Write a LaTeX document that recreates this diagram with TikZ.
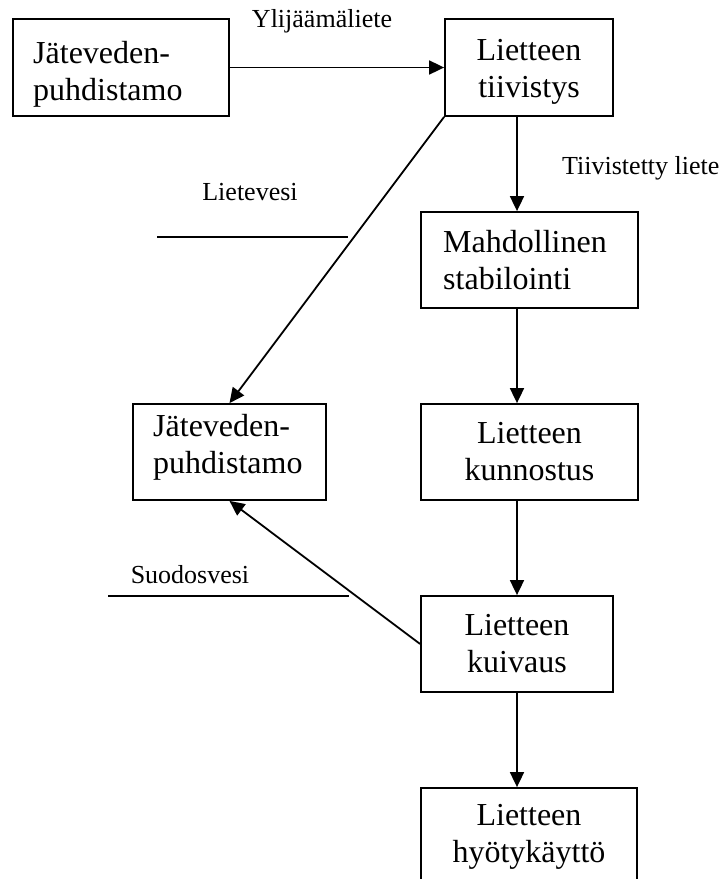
\documentclass[tikz,border=0pt]{standalone}
\usepackage{fontspec}
\setmainfont{Liberation Serif}
\usetikzlibrary{arrows.meta}
\begin{document}
\begin{tikzpicture}[x=1pt,y=-1pt,
  box/.style={draw, line width=1.8pt, inner sep=0pt},
  btl/.style={font=\fontsize{32}{37}\selectfont, inner sep=0pt, text width=200pt, align=left, anchor=base west},
  btc/.style={font=\fontsize{32}{37}\selectfont, inner sep=0pt, text width=#1, align=center, anchor=base},
  lbl/.style={font=\fontsize{26}{30}\selectfont, inner sep=0pt},
  arr/.style={line width=1.8pt, -{Triangle[length=15pt,width=14pt]}},
  plain/.style={line width=1.8pt}]
\useasboundingbox (0,0) rectangle (726,879);
\clip (0,0) rectangle (726,879);
% boxes
\node[box, minimum width=216pt, minimum height=97pt] (b1) at (121,67.5) {};
\node[box, minimum width=168pt, minimum height=97pt] (b2) at (529,67.5) {};
\node[box, minimum width=217pt, minimum height=96pt] (b3) at (529.5,260) {};
\node[box, minimum width=193pt, minimum height=96pt] (b4) at (229.5,452) {};
\node[box, minimum width=217pt, minimum height=96pt] (b5) at (529.5,452) {};
\node[box, minimum width=192pt, minimum height=96pt] (b6) at (517,644) {};
\node[box, minimum width=216pt, minimum height=112pt] (b7) at (529,844) {};
% box texts
\node[btl] (t1) at (33,63) {Jäteveden-\\puhdistamo};
\node[btc=168pt] (t2) at (529,60) {Lietteen\\tiivistys};
\node[btl] (t3) at (443,252) {Mahdollinen\\stabilointi};
\node[btl] (t4) at (153,436) {Jäteveden-\\puhdistamo};
\node[btc=217pt] (t5) at (529.5,443) {Lietteen\\kunnostus};
\node[btc=192pt] (t6) at (517,635) {Lietteen\\kuivaus};
\node[btc=216pt] (t7) at (529,825) {Lietteen\\hyötykäyttö};
% labels
\node[lbl, anchor=base] (l1) at (322,27) {Ylijäämäliete};
\node[lbl, anchor=base west] (l2) at (562,174) {Tiivistetty liete};
\node[lbl, anchor=base] (l3) at (250,200) {Lietevesi};
\node[lbl, anchor=base] (l4) at (190,583) {Suodosvesi};
% helper coordinates
\coordinate (ax) at (517,0);
\coordinate (la) at (157,237);
\coordinate (lb) at (348,237);
\coordinate (sa) at (108,596);
\coordinate (sb) at (349,596);
% connectors
\draw[arr] (b1) -- (b2);
\draw[arr] (b2.south -| ax) -- (b3.north -| ax);
\draw[arr] (b3.south -| ax) -- (b5.north -| ax);
\draw[arr] (b5.south -| ax) -- (b6.north -| ax);
\draw[arr] (b6.south) -- (b7.north -| b6);
\draw[arr] (b2.south west) -- (b4.north);
\draw[arr] (b6.west) -- (b4.south);
\draw[plain] (la) -- (lb);
\draw[plain] (sa) -- (sb);
\end{tikzpicture}
\end{document}
